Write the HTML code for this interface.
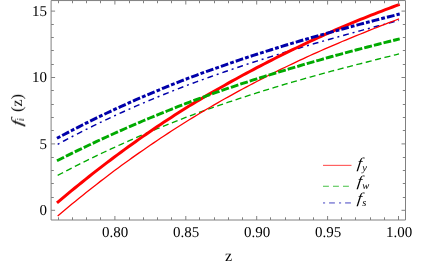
<!DOCTYPE html>
<html><head><meta charset="utf-8"><title>plot</title>
<style>
html,body{margin:0;padding:0;background:#fff;}
body{width:436px;height:273px;position:relative;overflow:hidden;font-family:"Liberation Serif",serif;color:#000;text-rendering:geometricPrecision;}
.t{position:absolute;will-change:transform;font-size:15px;line-height:16px;white-space:nowrap;}
.xt{width:60px;text-align:center;top:224.5px;}
.yt{width:40px;text-align:right;left:7.1px;}
.lab{font-size:16px;line-height:16px;}
.leg{font-size:16px;line-height:16px;font-style:italic;}
.r{transform:translate(-50%,-50%) rotate(-90deg);}
.f{display:inline-block;font-style:italic;font-size:15px;transform:skewX(-7deg) scaleX(1.12);transform-origin:50% 70%;}
.fl{font-size:15.5px;transform:skewX(-8deg) scaleX(1.35);}
.s{font-style:italic;font-size:10.5px;position:relative;top:2.5px;left:1px;}
</style></head><body>
<svg width="436" height="273" viewBox="0 0 436 273" style="position:absolute;left:0;top:0">
<g fill="none" stroke-linecap="butt" stroke-linejoin="round">
<path d="M57.68,175.38 L61.24,173.50 L64.79,171.64 L68.35,169.80 L71.90,167.97 L75.46,166.16 L79.01,164.37 L82.57,162.59 L86.12,160.82 L89.68,159.08 L93.23,157.35 L96.79,155.63 L100.34,153.93 L103.90,152.25 L107.46,150.58 L111.01,148.92 L114.57,147.28 L118.12,145.66 L121.68,144.05 L125.23,142.45 L128.79,140.87 L132.34,139.31 L135.90,137.75 L139.45,136.22 L143.01,134.69 L146.57,133.18 L150.12,131.68 L153.68,130.20 L157.23,128.73 L160.79,127.27 L164.34,125.83 L167.90,124.40 L171.45,122.98 L175.01,121.58 L178.56,120.19 L182.12,118.81 L185.67,117.44 L189.23,116.11 L192.79,114.79 L196.34,113.48 L199.90,112.18 L203.45,110.89 L207.01,109.62 L210.56,108.36 L214.12,107.10 L217.67,105.87 L221.23,104.64 L224.78,103.42 L228.34,102.21 L231.90,101.02 L235.45,99.83 L239.01,98.66 L242.56,97.50 L246.12,96.34 L249.67,95.20 L253.23,94.07 L256.78,92.95 L260.34,91.82 L263.89,90.70 L267.45,89.60 L271.00,88.50 L274.56,87.41 L278.12,86.33 L281.67,85.27 L285.23,84.21 L288.78,83.15 L292.34,82.11 L295.89,81.08 L299.45,80.05 L303.00,79.04 L306.56,78.03 L310.11,77.03 L313.67,76.04 L317.23,75.05 L320.78,74.08 L324.34,73.11 L327.89,72.15 L331.45,71.19 L335.00,70.25 L338.56,69.31 L342.11,68.38 L345.67,67.45 L349.22,66.54 L352.78,65.62 L356.33,64.72 L359.89,63.82 L363.45,62.92 L367.00,62.00 L370.56,61.08 L374.11,60.17 L377.67,59.26 L381.22,58.36 L384.78,57.46 L388.33,56.57 L391.89,55.68 L395.44,54.80 L399.00,53.93" stroke="#00aa00" stroke-width="1.35" stroke-dasharray="6.1 3.576"/>
<path d="M57.68,144.31 L61.24,142.39 L64.79,140.49 L68.35,138.61 L71.90,136.75 L75.46,134.91 L79.01,133.08 L82.57,131.27 L86.12,129.47 L89.68,127.70 L93.23,125.94 L96.79,124.20 L100.34,122.47 L103.90,120.76 L107.46,119.07 L111.01,117.39 L114.57,115.73 L118.12,114.10 L121.68,112.48 L125.23,110.88 L128.79,109.29 L132.34,107.72 L135.90,106.17 L139.45,104.63 L143.01,103.10 L146.57,101.59 L150.12,100.09 L153.68,98.61 L157.23,97.14 L160.79,95.69 L164.34,94.24 L167.90,92.82 L171.45,91.40 L175.01,90.00 L178.56,88.61 L182.12,87.24 L185.67,85.87 L189.23,84.53 L192.79,83.21 L196.34,81.90 L199.90,80.60 L203.45,79.31 L207.01,78.03 L210.56,76.77 L214.12,75.51 L217.67,74.27 L221.23,73.04 L224.78,71.80 L228.34,70.57 L231.90,69.35 L235.45,68.14 L239.01,66.94 L242.56,65.75 L246.12,64.57 L249.67,63.41 L253.23,62.25 L256.78,61.10 L260.34,59.96 L263.89,58.82 L267.45,57.70 L271.00,56.59 L274.56,55.48 L278.12,54.39 L281.67,53.30 L285.23,52.22 L288.78,51.15 L292.34,50.08 L295.89,49.02 L299.45,47.96 L303.00,46.91 L306.56,45.87 L310.11,44.84 L313.67,43.81 L317.23,42.79 L320.78,41.78 L324.34,40.77 L327.89,39.77 L331.45,38.76 L335.00,37.75 L338.56,36.76 L342.11,35.76 L345.67,34.78 L349.22,33.80 L352.78,32.82 L356.33,31.85 L359.89,30.88 L363.45,29.92 L367.00,28.95 L370.56,27.98 L374.11,27.02 L377.67,26.06 L381.22,25.11 L384.78,24.15 L388.33,23.21 L391.89,22.26 L395.44,21.32 L399.00,20.39" stroke="#0000aa" stroke-width="1.45" stroke-dasharray="2.0 4.0 5.9 3.9"/>
<path d="M57.68,215.95 L61.24,212.94 L64.79,209.96 L68.35,207.00 L71.90,204.06 L75.46,201.15 L79.01,198.26 L82.57,195.39 L86.12,192.54 L89.68,189.72 L93.23,186.92 L96.79,184.14 L100.34,181.38 L103.90,178.65 L107.46,175.94 L111.01,173.25 L114.57,170.58 L118.12,167.95 L121.68,165.34 L125.23,162.76 L128.79,160.20 L132.34,157.65 L135.90,155.13 L139.45,152.63 L143.01,150.16 L146.57,147.70 L150.12,145.26 L153.68,142.85 L157.23,140.45 L160.79,138.08 L164.34,135.72 L167.90,133.39 L171.45,131.07 L175.01,128.78 L178.56,126.51 L182.12,124.25 L185.67,122.02 L189.23,119.81 L192.79,117.62 L196.34,115.45 L199.90,113.30 L203.45,111.17 L207.01,109.06 L210.56,106.97 L214.12,104.90 L217.67,102.84 L221.23,100.81 L224.78,98.80 L228.34,96.81 L231.90,94.83 L235.45,92.88 L239.01,90.94 L242.56,89.02 L246.12,87.12 L249.67,85.24 L253.23,83.38 L256.78,81.53 L260.34,79.68 L263.89,77.85 L267.45,76.04 L271.00,74.24 L274.56,72.46 L278.12,70.70 L281.67,68.95 L285.23,67.22 L288.78,65.51 L292.34,63.82 L295.89,62.13 L299.45,60.45 L303.00,58.79 L306.56,57.15 L310.11,55.52 L313.67,53.91 L317.23,52.32 L320.78,50.74 L324.34,49.18 L327.89,47.63 L331.45,46.08 L335.00,44.55 L338.56,43.03 L342.11,41.52 L345.67,40.03 L349.22,38.56 L352.78,37.10 L356.33,35.66 L359.89,34.23 L363.45,32.81 L367.00,31.35 L370.56,29.92 L374.11,28.49 L377.67,27.08 L381.22,25.69 L384.78,24.30 L388.33,22.94 L391.89,21.58 L395.44,20.24 L399.00,18.93" stroke="#ff0000" stroke-width="1.3"/>
<path d="M56.98,202.96 L60.55,199.92 L64.12,196.91 L67.69,193.92 L71.26,190.96 L74.83,188.02 L78.40,185.11 L81.97,182.22 L85.54,179.35 L89.11,176.51 L92.68,173.69 L96.25,170.90 L99.82,168.12 L103.39,165.38 L106.96,162.65 L110.53,159.95 L114.10,157.27 L117.67,154.61 L121.24,151.98 L124.81,149.37 L128.38,146.78 L131.95,144.21 L135.52,141.67 L139.09,139.14 L142.66,136.64 L146.23,134.16 L149.80,131.71 L153.37,129.27 L156.94,126.85 L160.51,124.46 L164.08,122.08 L167.65,119.73 L171.22,117.40 L174.79,115.09 L178.36,112.79 L181.93,110.52 L185.50,108.27 L189.07,106.07 L192.64,103.90 L196.21,101.75 L199.78,99.62 L203.35,97.50 L206.92,95.41 L210.49,93.33 L214.06,91.28 L217.63,89.24 L221.20,87.22 L224.77,85.19 L228.34,83.17 L231.91,81.17 L235.48,79.19 L239.05,77.23 L242.62,75.29 L246.19,73.36 L249.76,71.45 L253.33,69.56 L256.90,67.68 L260.47,65.81 L264.04,63.96 L267.61,62.12 L271.18,60.30 L274.75,58.49 L278.32,56.70 L281.89,54.93 L285.46,53.18 L289.03,51.44 L292.60,49.71 L296.17,47.98 L299.74,46.27 L303.31,44.57 L306.88,42.88 L310.45,41.22 L314.02,39.56 L317.59,37.92 L321.16,36.30 L324.73,34.69 L328.30,33.10 L331.87,31.53 L335.44,29.98 L339.01,28.44 L342.58,26.91 L346.15,25.40 L349.72,23.90 L353.29,22.41 L356.86,20.94 L360.43,19.48 L364.00,18.04 L367.57,16.61 L371.14,15.21 L374.71,13.81 L378.28,12.43 L381.85,11.06 L385.42,9.70 L388.99,8.35 L392.56,7.01 L396.13,5.69 L399.70,4.38" stroke="#ff0000" stroke-width="3"/>
<path d="M56.98,160.74 L60.55,158.95 L64.12,157.16 L67.69,155.39 L71.26,153.64 L74.83,151.89 L78.40,150.16 L81.97,148.44 L85.54,146.73 L89.11,145.04 L92.68,143.35 L96.25,141.68 L99.82,140.02 L103.39,138.37 L106.96,136.74 L110.53,135.11 L114.10,133.50 L117.67,131.90 L121.24,130.31 L124.81,128.74 L128.38,127.17 L131.95,125.62 L135.52,124.08 L139.09,122.55 L142.66,121.03 L146.23,119.52 L149.80,118.03 L153.37,116.54 L156.94,115.07 L160.51,113.61 L164.08,112.16 L167.65,110.72 L171.22,109.29 L174.79,107.87 L178.36,106.46 L181.93,105.07 L185.50,103.68 L189.07,102.33 L192.64,101.00 L196.21,99.67 L199.78,98.36 L203.35,97.06 L206.92,95.76 L210.49,94.48 L214.06,93.21 L217.63,91.95 L221.20,90.69 L224.77,89.46 L228.34,88.24 L231.91,87.02 L235.48,85.82 L239.05,84.63 L242.62,83.44 L246.19,82.27 L249.76,81.11 L253.33,79.96 L256.90,78.81 L260.47,77.68 L264.04,76.56 L267.61,75.45 L271.18,74.34 L274.75,73.25 L278.32,72.17 L281.89,71.09 L285.46,70.03 L289.03,68.97 L292.60,67.92 L296.17,66.84 L299.74,65.76 L303.31,64.70 L306.88,63.64 L310.45,62.60 L314.02,61.56 L317.59,60.54 L321.16,59.52 L324.73,58.51 L328.30,57.51 L331.87,56.51 L335.44,55.52 L339.01,54.54 L342.58,53.57 L346.15,52.61 L349.72,51.65 L353.29,50.71 L356.86,49.77 L360.43,48.84 L364.00,47.92 L367.57,46.98 L371.14,46.05 L374.71,45.13 L378.28,44.22 L381.85,43.31 L385.42,42.42 L388.99,41.53 L392.56,40.65 L396.13,39.78 L399.70,38.93" stroke="#00aa00" stroke-width="2.9" stroke-dasharray="7.9 2.04"/>
<path d="M56.98,138.27 L60.55,136.36 L64.12,134.47 L67.69,132.59 L71.26,130.73 L74.83,128.88 L78.40,127.06 L81.97,125.25 L85.54,123.45 L89.11,121.67 L92.68,119.91 L96.25,118.17 L99.82,116.44 L103.39,114.72 L106.96,113.02 L110.53,111.34 L114.10,109.67 L117.67,108.02 L121.24,106.38 L124.81,104.76 L128.38,103.15 L131.95,101.56 L135.52,99.98 L139.09,98.42 L142.66,96.87 L146.23,95.33 L149.80,93.81 L153.37,92.30 L156.94,90.81 L160.51,89.33 L164.08,87.86 L167.65,86.41 L171.22,84.97 L174.79,83.54 L178.36,82.12 L181.93,80.72 L185.50,79.33 L189.07,77.97 L192.64,76.63 L196.21,75.30 L199.78,73.98 L203.35,72.67 L206.92,71.37 L210.49,70.08 L214.06,68.81 L217.63,67.55 L221.20,66.30 L224.77,65.04 L228.34,63.80 L231.91,62.57 L235.48,61.35 L239.05,60.14 L242.62,58.94 L246.19,57.75 L249.76,56.57 L253.33,55.40 L256.90,54.24 L260.47,53.09 L264.04,51.95 L267.61,50.82 L271.18,49.70 L274.75,48.59 L278.32,47.48 L281.89,46.39 L285.46,45.30 L289.03,44.23 L292.60,43.16 L296.17,42.10 L299.74,41.05 L303.31,40.00 L306.88,38.97 L310.45,37.94 L314.02,36.92 L317.59,35.90 L321.16,34.90 L324.73,33.90 L328.30,32.91 L331.87,31.91 L335.44,30.92 L339.01,29.93 L342.58,28.96 L346.15,27.98 L349.72,27.02 L353.29,26.06 L356.86,25.11 L360.43,24.16 L364.00,23.22 L367.57,22.28 L371.14,21.34 L374.71,20.41 L378.28,19.48 L381.85,18.56 L385.42,17.64 L388.99,16.73 L392.56,15.83 L396.13,14.92 L399.70,14.03" stroke="#0000aa" stroke-width="3" stroke-dasharray="3.8 2.08 7.8 2.07"/>
</g>
<g fill="none" stroke="#808080" stroke-width="1">
<path d="M51.10,0.55 H405.50 V220.00 H51.10 Z"/>
<path d="M58.50,220.00 v-2.70 M58.50,0.55 v2.70 M72.50,220.00 v-2.70 M72.50,0.55 v2.70 M86.50,220.00 v-2.70 M86.50,0.55 v2.70 M100.50,220.00 v-2.70 M100.50,0.55 v2.70 M114.90,220.00 v-4.00 M114.90,0.55 v4.00 M129.50,220.00 v-2.70 M129.50,0.55 v2.70 M143.50,220.00 v-2.70 M143.50,0.55 v2.70 M157.50,220.00 v-2.70 M157.50,0.55 v2.70 M171.50,220.00 v-2.70 M171.50,0.55 v2.70 M185.80,220.00 v-4.00 M185.80,0.55 v4.00 M199.50,220.00 v-2.70 M199.50,0.55 v2.70 M214.50,220.00 v-2.70 M214.50,0.55 v2.70 M228.50,220.00 v-2.70 M228.50,0.55 v2.70 M242.50,220.00 v-2.70 M242.50,0.55 v2.70 M256.70,220.00 v-4.00 M256.70,0.55 v4.00 M270.50,220.00 v-2.70 M270.50,0.55 v2.70 M285.50,220.00 v-2.70 M285.50,0.55 v2.70 M299.50,220.00 v-2.70 M299.50,0.55 v2.70 M313.50,220.00 v-2.70 M313.50,0.55 v2.70 M327.60,220.00 v-4.00 M327.60,0.55 v4.00 M341.50,220.00 v-2.70 M341.50,0.55 v2.70 M355.50,220.00 v-2.70 M355.50,0.55 v2.70 M370.50,220.00 v-2.70 M370.50,0.55 v2.70 M384.50,220.00 v-2.70 M384.50,0.55 v2.70 M398.50,220.00 v-4.00 M398.50,0.55 v4.00 M51.10,210.30 h4.00 M405.50,210.30 h-4.00 M51.10,197.50 h2.70 M405.50,197.50 h-2.70 M51.10,183.50 h2.70 M405.50,183.50 h-2.70 M51.10,170.50 h2.70 M405.50,170.50 h-2.70 M51.10,157.50 h2.70 M405.50,157.50 h-2.70 M51.10,143.90 h4.00 M405.50,143.90 h-4.00 M51.10,130.50 h2.70 M405.50,130.50 h-2.70 M51.10,117.50 h2.70 M405.50,117.50 h-2.70 M51.10,104.50 h2.70 M405.50,104.50 h-2.70 M51.10,90.50 h2.70 M405.50,90.50 h-2.70 M51.10,77.50 h4.00 M405.50,77.50 h-4.00 M51.10,64.50 h2.70 M405.50,64.50 h-2.70 M51.10,50.50 h2.70 M405.50,50.50 h-2.70 M51.10,37.50 h2.70 M405.50,37.50 h-2.70 M51.10,24.50 h2.70 M405.50,24.50 h-2.70 M51.10,11.10 h4.00 M405.50,11.10 h-4.00"/>
</g>
<g fill="none" stroke-width="1" stroke-opacity="0.78">
<path d="M323,165.35 H351.5" stroke="#ff1010"/>
<path d="M323,186.25 H351.5" stroke="#10b010" stroke-dasharray="5.9 4.1"/>
<path d="M323,202.95 H351.5" stroke="#1010b0" stroke-dasharray="2.1 4 5.8 4.1"/>
</g>
</svg>
<div class="t xt" style="left:84.9px">0.80</div>
<div class="t xt" style="left:155.8px">0.85</div>
<div class="t xt" style="left:226.7px">0.90</div>
<div class="t xt" style="left:297.6px">0.95</div>
<div class="t xt" style="left:368.5px">1.00</div>
<div class="t yt" style="top:3.7px">15</div>
<div class="t yt" style="top:70.1px">10</div>
<div class="t yt" style="top:136.5px">5</div>
<div class="t yt" style="top:202.9px">0</div>
<div class="t lab" style="left:225px;top:249px;">z</div>
<div class="t lab r" style="left:18.3px;top:102.6px;">(z)</div>
<div class="t r" style="left:19.4px;top:121.9px;"><span class="f fl">f</span><span class="s" style="left:0.3px;top:1.8px">i</span></div>
<div class="t" style="left:356.6px;top:155.5px;"><span class="f">f</span><span class="s">y</span></div>
<div class="t" style="left:356.6px;top:173.7px;"><span class="f">f</span><span class="s">w</span></div>
<div class="t" style="left:356.6px;top:190.9px;"><span class="f">f</span><span class="s">s</span></div>
</body></html>
